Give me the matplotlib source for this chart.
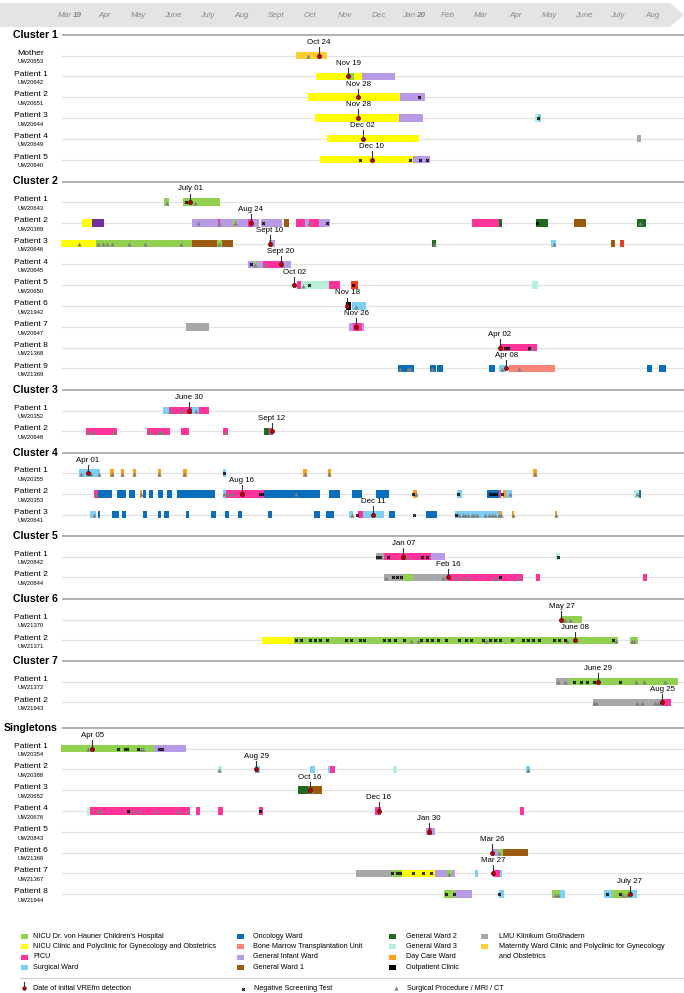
import matplotlib
matplotlib.use('Agg')
import matplotlib.pyplot as plt
import matplotlib.dates as mdates
from matplotlib.patches import Rectangle, Polygon
from datetime import datetime

plt.rcParams['font.family'] = ['Liberation Sans', 'DejaVu Sans']

# ward colours and legend names
ward_colors = {
    'hau': '#92D050', 'nic': '#FFFF00', 'picu': '#FF3399', 'surg': '#7DD0F5',
    'onc': '#0A6EBD', 'bmt': '#F88379', 'inf': '#B99AE6', 'gw1': '#9A5B0E',
    'gw2': '#1E6B1E', 'gw3': '#B8EFD8', 'day': '#FF9E1B', 'out': '#000000',
    'lmu': '#A8A8A8', 'mat': '#FFCC33', 'dpur': '#7030A0', 'red': '#F03C1E',
}
legend_cols = [
    [('hau', "NICU Dr. von Hauner Children's Hospital"),
     ('nic', 'NICU Clinic and Polyclinic for Gynecology and Obstetrics'),
     ('picu', 'PICU'), ('surg', 'Surgical Ward')],
    [('onc', 'Oncology Ward'), ('bmt', 'Bone Marrow Transplantation Unit'),
     ('inf', 'General Infant Ward'), ('gw1', 'General Ward 1')],
    [('gw2', 'General Ward 2'), ('gw3', 'General Ward 3'),
     ('day', 'Day Care Ward'), ('out', 'Outpatient Clinic')],
    [('lmu', 'LMU Klinikum Großhadern'),
     ('mat', 'Maternity Ward Clinic and Polyclinic for Gynecology'),
     (None, 'and Obstetrics')],
]

months = ['Mar', 'Apr', 'May', 'June', 'July', 'Aug', 'Sept', 'Oct', 'Nov', 'Dec',
          'Jan', 'Feb', 'Mar', 'Apr', 'May', 'June', 'July', 'Aug']
month_dates = ['2019-03-16', '2019-04-16', '2019-05-16', '2019-06-16', '2019-07-16',
               '2019-08-16', '2019-09-16', '2019-10-16', '2019-11-16', '2019-12-16',
               '2020-01-16', '2020-02-16', '2020-03-16', '2020-04-16', '2020-05-16',
               '2020-06-16', '2020-07-16', '2020-08-16']
month_names = ['Jan', 'Feb', 'Mar', 'Apr', 'May', 'June', 'July', 'Aug', 'Sept', 'Oct', 'Nov', 'Dec']

# ---------------- Cluster 1
c1_names = ['Mother', 'Patient 1', 'Patient 2', 'Patient 3', 'Patient 4', 'Patient 5']
c1_ids = ['UW20653', 'UW20642', 'UW20651', 'UW20644', 'UW20649', 'UW20640']
c1_detect = ['2019-10-24', '2019-11-19', '2019-11-28', '2019-11-28', '2019-12-02', '2019-12-10']
c1_stays = [
    [('2019-10-03', '2019-10-31', 'mat')],
    [('2019-10-21', '2019-11-19', 'nic'), ('2019-11-19', '2019-11-24', 'hau'),
     ('2019-11-24', '2019-12-01', 'nic'), ('2019-12-01', '2019-12-31', 'inf')],
    [('2019-10-14', '2020-01-04', 'nic'), ('2020-01-04', '2020-01-26', 'inf')],
    [('2019-10-20', '2020-01-03', 'nic'), ('2020-01-03', '2020-01-25', 'inf'),
     ('2020-05-03', '2020-05-06', 'gw3'), ('2020-05-06', '2020-05-09', 'surg')],
    [('2019-10-31', '2020-01-21', 'nic'), ('2020-08-02', '2020-08-06', 'lmu')],
    [('2019-10-25', '2020-01-16', 'nic'), ('2020-01-16', '2020-01-31', 'inf')],
]
c1_neg = [[], [], ['2020-01-21'], ['2020-05-06'], [],
          ['2019-11-29', '2020-01-13', '2020-01-22', '2020-01-28']]
c1_proc = [['2019-10-14'], [], [], [], [], []]

# ---------------- Cluster 2
c2_names = ['Patient %d' % i for i in range(1, 10)]
c2_ids = ['UW20643', 'UW20389', 'UW20646', 'UW20645', 'UW20650', 'UW21942', 'UW20647',
          'UW21368', 'UW21369']
c2_detect = ['2019-07-01', '2019-08-24', '2019-09-10', '2019-09-20', '2019-10-02',
             '2019-11-18', '2019-11-26', '2020-04-02', '2020-04-08']
c2_stays = [
    [('2019-06-08', '2019-06-12', 'hau'), ('2019-06-25', '2019-07-28', 'hau')],
    [('2019-03-27', '2019-04-05', 'nic'), ('2019-04-05', '2019-04-15', 'dpur'),
     ('2019-07-03', '2019-07-26', 'inf'), ('2019-07-26', '2019-07-28', 'picu'),
     ('2019-07-28', '2019-08-08', 'inf'), ('2019-08-08', '2019-08-11', 'hau'),
     ('2019-08-11', '2019-08-22', 'inf'), ('2019-08-22', '2019-08-26', 'picu'),
     ('2019-08-26', '2019-08-31', 'inf'), ('2019-09-02', '2019-09-21', 'inf'),
     ('2019-09-23', '2019-09-27', 'gw1'), ('2019-10-03', '2019-10-11', 'picu'),
     ('2019-10-11', '2019-10-15', 'inf'), ('2019-10-15', '2019-10-24', 'picu'),
     ('2019-10-24', '2019-11-03', 'inf'), ('2020-03-08', '2020-04-01', 'picu'),
     ('2020-04-01', '2020-04-04', 'gw2'), ('2020-05-04', '2020-05-15', 'gw2'),
     ('2020-06-07', '2020-06-18', 'gw1'), ('2020-08-02', '2020-08-10', 'gw2')],
    [('2019-03-08', '2019-04-08', 'nic'), ('2019-04-08', '2019-07-03', 'hau'),
     ('2019-07-03', '2019-07-25', 'gw1'), ('2019-07-25', '2019-07-29', 'hau'),
     ('2019-07-29', '2019-08-08', 'gw1'), ('2019-09-09', '2019-09-15', 'inf'),
     ('2020-02-02', '2020-02-05', 'gw2'), ('2020-05-18', '2020-05-22', 'surg'),
     ('2020-07-10', '2020-07-14', 'gw1'), ('2020-07-18', '2020-07-22', 'red')],
    [('2019-08-22', '2019-08-27', 'inf'), ('2019-08-27', '2019-08-30', 'hau'),
     ('2019-08-30', '2019-09-04', 'inf'), ('2019-09-04', '2019-09-22', 'picu'),
     ('2019-09-22', '2019-09-29', 'inf')],
    [('2019-10-04', '2019-10-08', 'picu'), ('2019-10-08', '2019-11-02', 'gw3'),
     ('2019-11-02', '2019-11-12', 'picu'), ('2019-11-21', '2019-11-28', 'red'),
     ('2020-05-01', '2020-05-06', 'gw3')],
    [('2019-11-17', '2019-11-21', 'out'), ('2019-11-22', '2019-12-05', 'surg')],
    [('2019-06-27', '2019-07-18', 'lmu'), ('2019-11-20', '2019-11-23', 'inf'),
     ('2019-11-23', '2019-12-01', 'picu'), ('2019-12-01', '2019-12-03', 'inf')],
    [('2020-04-02', '2020-05-05', 'picu')],
    [('2020-01-02', '2020-01-17', 'onc'), ('2020-01-31', '2020-02-05', 'onc'),
     ('2020-02-06', '2020-02-11', 'onc'), ('2020-03-23', '2020-03-29', 'onc'),
     ('2020-04-01', '2020-04-08', 'surg'), ('2020-04-10', '2020-05-21', 'bmt'),
     ('2020-08-11', '2020-08-16', 'onc'), ('2020-08-22', '2020-08-28', 'onc')],
]
c2_neg = [['2019-06-27'], ['2019-09-04', '2019-10-31', '2020-05-05'], [], ['2019-08-24'],
          ['2019-10-15', '2019-11-23'], [], [], ['2020-04-07', '2020-04-09', '2020-04-28'], []]
c2_proc = [['2019-06-10', '2019-07-05'],
           ['2019-07-08', '2019-07-27', '2019-08-10', '2019-10-15', '2020-08-05'],
           ['2019-03-24', '2019-04-10', '2019-04-14', '2019-04-18', '2019-04-22', '2019-05-08',
            '2019-05-22', '2019-06-23', '2019-07-27', '2020-02-03', '2020-05-20'],
           ['2019-08-28', '2019-09-05', '2019-09-21'], ['2019-10-10'], ['2019-11-26'], [],
           ['2020-04-10', '2020-04-30'],
           ['2020-01-04', '2020-01-11', '2020-01-13', '2020-02-02', '2020-04-04', '2020-04-19']]

# ---------------- Cluster 3
c3_names = ['Patient 1', 'Patient 2']
c3_ids = ['UW20352', 'UW20648']
c3_detect = ['2019-06-30', '2019-09-12']
c3_stays = [
    [('2019-06-07', '2019-06-12', 'surg'), ('2019-06-12', '2019-07-03', 'picu'),
     ('2019-07-03', '2019-07-09', 'surg'), ('2019-07-09', '2019-07-18', 'picu')],
    [('2019-03-30', '2019-04-27', 'picu'), ('2019-05-24', '2019-06-13', 'picu'),
     ('2019-06-23', '2019-06-30', 'picu'), ('2019-07-30', '2019-08-04', 'picu'),
     ('2019-09-05', '2019-09-09', 'gw2'), ('2019-09-09', '2019-09-13', 'picu')],
]
c3_neg = [[], []]
c3_proc = [['2019-06-13', '2019-06-23', '2019-07-06'],
           ['2019-04-02', '2019-04-06', '2019-04-23', '2019-05-26', '2019-06-03', '2019-06-06',
            '2019-08-02', '2019-09-11']]

# ---------------- Cluster 4
c4_names = ['Patient 1', 'Patient 2', 'Patient 3']
c4_ids = ['UW20355', 'UW20353', 'UW20641']
c4_detect = ['2019-04-01', '2019-08-16', '2019-12-11']
c4_stays = [
    [('2019-03-24', '2019-04-12', 'surg'), ('2019-04-21', '2019-04-24', 'day'),
     ('2019-04-30', '2019-05-03', 'day'), ('2019-05-11', '2019-05-14', 'day'),
     ('2019-06-02', '2019-06-05', 'day'), ('2019-06-25', '2019-06-28', 'day'),
     ('2019-07-30', '2019-08-02', 'surg'), ('2019-10-10', '2019-10-13', 'day'),
     ('2019-11-01', '2019-11-04', 'day'), ('2020-05-02', '2020-05-05', 'day')],
    [('2019-04-06', '2019-04-10', 'picu'), ('2019-04-10', '2019-04-22', 'onc'),
     ('2019-04-27', '2019-05-05', 'onc'), ('2019-05-08', '2019-05-13', 'onc'),
     ('2019-05-17', '2019-05-19', 'day'), ('2019-05-20', '2019-05-23', 'onc'),
     ('2019-05-25', '2019-05-29', 'onc'), ('2019-06-02', '2019-06-07', 'onc'),
     ('2019-06-10', '2019-06-15', 'onc'), ('2019-06-19', '2019-07-23', 'onc'),
     ('2019-07-30', '2019-08-02', 'surg'), ('2019-08-02', '2019-09-05', 'picu'),
     ('2019-09-05', '2019-10-25', 'onc'), ('2019-11-02', '2019-11-12', 'onc'),
     ('2019-11-22', '2019-12-01', 'onc'), ('2019-12-14', '2019-12-25', 'onc'),
     ('2020-01-16', '2020-01-19', 'day'), ('2020-02-24', '2020-02-28', 'surg'),
     ('2020-03-22', '2020-04-01', 'onc'), ('2020-04-01', '2020-04-03', 'picu'),
     ('2020-04-05', '2020-04-08', 'day'), ('2020-04-08', '2020-04-13', 'surg'),
     ('2020-07-31', '2020-08-04', 'gw3'), ('2020-08-04', '2020-08-06', 'onc')],
    [('2019-04-03', '2019-04-08', 'surg'), ('2019-04-10', '2019-04-12', 'onc'),
     ('2019-04-22', '2019-04-29', 'onc'), ('2019-05-01', '2019-05-05', 'onc'),
     ('2019-05-20', '2019-05-24', 'onc'), ('2019-06-02', '2019-06-05', 'onc'),
     ('2019-06-08', '2019-06-12', 'onc'), ('2019-06-27', '2019-06-30', 'onc'),
     ('2019-07-20', '2019-07-24', 'onc'), ('2019-08-01', '2019-08-05', 'onc'),
     ('2019-08-13', '2019-08-16', 'onc'), ('2019-09-08', '2019-09-12', 'onc'),
     ('2019-10-19', '2019-10-25', 'onc'), ('2019-10-30', '2019-11-06', 'onc'),
     ('2019-11-20', '2019-11-23', 'surg'), ('2019-11-28', '2019-12-02', 'picu'),
     ('2019-12-02', '2019-12-21', 'surg'), ('2019-12-25', '2019-12-31', 'onc'),
     ('2020-01-27', '2020-02-06', 'onc'), ('2020-02-22', '2020-04-01', 'surg'),
     ('2020-04-01', '2020-04-04', 'day'), ('2020-04-13', '2020-04-15', 'day'),
     ('2020-05-21', '2020-05-23', 'day')],
]
c4_neg = [['2019-07-31'],
          ['2019-09-01', '2019-09-03', '2020-01-16', '2020-02-25', '2020-03-24', '2020-03-26',
           '2020-03-28', '2020-03-30', '2020-04-04'],
          ['2019-11-27', '2020-01-17', '2020-02-23']]
c4_proc = [['2019-03-26', '2019-04-04', '2019-04-11', '2019-04-22', '2019-05-01', '2019-05-12',
            '2019-06-03', '2019-06-26', '2019-10-11', '2019-11-02', '2020-05-03'],
           ['2019-04-08', '2019-05-18', '2019-07-31', '2019-08-04', '2019-08-07', '2019-10-03',
            '2020-01-18', '2020-04-11', '2020-08-02'],
           ['2019-04-06', '2019-11-22', '2020-02-26', '2020-02-29', '2020-03-02', '2020-03-05',
            '2020-03-08', '2020-03-10', '2020-03-13', '2020-03-20', '2020-03-23', '2020-03-26',
            '2020-03-29', '2020-04-01', '2020-04-03', '2020-04-14', '2020-05-22']]

# ---------------- Cluster 5
c5_names = ['Patient 1', 'Patient 2']
c5_ids = ['UW20842', 'UW20844']
c5_detect = ['2020-01-07', '2020-02-16']
c5_stays = [
    [('2019-12-14', '2019-12-21', 'lmu'), ('2019-12-21', '2020-02-01', 'picu'),
     ('2020-02-01', '2020-02-13', 'inf'), ('2020-05-22', '2020-05-26', 'gw3')],
    [('2019-12-21', '2020-01-07', 'lmu'), ('2020-01-07', '2020-01-16', 'hau'),
     ('2020-01-16', '2020-02-17', 'lmu'), ('2020-02-17', '2020-04-23', 'picu'),
     ('2020-05-04', '2020-05-08', 'picu'), ('2020-08-08', '2020-08-11', 'picu')],
]
c5_neg = [['2019-12-15', '2019-12-17', '2019-12-24', '2020-01-24', '2020-01-28', '2020-05-24'],
          ['2019-12-29', '2020-01-01', '2020-01-05', '2020-04-02']]
c5_proc = [['2020-01-10'],
           ['2019-12-23', '2020-02-11', '2020-02-23', '2020-02-29', '2020-03-05', '2020-03-28',
            '2020-03-31', '2020-04-18']]

# ---------------- Cluster 6
c6_names = ['Patient 1', 'Patient 2']
c6_ids = ['UW21370', 'UW21371']
c6_detect = ['2020-05-27', '2020-06-08']
c6_stays = [
    [('2020-05-27', '2020-06-14', 'hau')],
    [('2019-09-03', '2019-10-02', 'nic'), ('2019-10-02', '2020-07-16', 'hau'),
     ('2020-07-27', '2020-08-03', 'hau')],
]
c6_neg = [[],
          ['2019-10-03', '2019-10-08', '2019-10-16', '2019-10-20', '2019-10-25', '2019-10-31',
           '2019-11-17', '2019-11-21', '2019-11-29', '2019-12-03', '2019-12-21', '2019-12-25',
           '2019-12-31', '2020-01-08', '2020-01-23', '2020-01-28', '2020-02-02', '2020-02-07',
           '2020-02-14', '2020-02-26', '2020-03-03', '2020-03-07', '2020-03-18', '2020-03-24',
           '2020-03-29', '2020-04-02', '2020-04-13', '2020-04-23', '2020-04-27', '2020-05-02',
           '2020-05-07', '2020-05-20', '2020-05-25', '2020-05-30', '2020-07-12']]
c6_proc = [['2020-05-30', '2020-06-04'],
           ['2020-01-14', '2020-01-20', '2020-03-21', '2020-06-01', '2020-07-15', '2020-07-29',
            '2020-07-31']]

# ---------------- Cluster 7
c7_names = ['Patient 1', 'Patient 2']
c7_ids = ['UW21372', 'UW21943']
c7_detect = ['2020-06-29', '2020-08-25']
c7_stays = [
    [('2020-05-22', '2020-06-03', 'lmu'), ('2020-06-03', '2020-09-08', 'hau')],
    [('2020-06-24', '2020-08-25', 'lmu'), ('2020-08-25', '2020-09-02', 'picu')],
]
c7_neg = [['2020-06-07', '2020-06-13', '2020-06-19', '2020-06-25', '2020-07-18'], []]
c7_proc = [['2020-05-24', '2020-05-30', '2020-08-01', '2020-08-09', '2020-08-27'],
           ['2020-06-25', '2020-06-27', '2020-08-02', '2020-08-07', '2020-08-18', '2020-08-21',
            '2020-08-23']]

# ---------------- Singletons
s_names = ['Patient %d' % i for i in range(1, 9)]
s_ids = ['UW20354', 'UW20388', 'UW20652', 'UW20676', 'UW20843', 'UW21366', 'UW21367', 'UW21944']
s_detect = ['2019-04-05', '2019-08-29', '2019-10-16', '2019-12-16', '2020-01-30', '2020-03-26',
            '2020-03-27', '2020-07-27']
s_stays = [
    [('2019-03-08', '2019-05-30', 'hau'), ('2019-05-30', '2019-06-27', 'inf')],
    [('2019-07-26', '2019-07-29', 'gw3'), ('2019-08-28', '2019-09-01', 'surg'),
     ('2019-10-16', '2019-10-20', 'surg'), ('2019-11-01', '2019-11-03', 'surg'),
     ('2019-11-03', '2019-11-07', 'picu'), ('2019-12-29', '2020-01-01', 'gw3'),
     ('2020-04-25', '2020-04-29', 'surg')],
    [('2019-10-05', '2019-10-14', 'gw2'), ('2019-10-14', '2019-10-27', 'gw1')],
    [('2019-03-31', '2019-04-03', 'gw3'), ('2019-04-03', '2019-07-01', 'picu'),
     ('2019-07-06', '2019-07-10', 'picu'), ('2019-07-26', '2019-07-30', 'picu'),
     ('2019-08-31', '2019-09-04', 'picu'), ('2019-12-13', '2019-12-18', 'picu'),
     ('2020-04-20', '2020-04-24', 'picu')],
    [('2020-01-27', '2020-01-29', 'inf'), ('2020-01-29', '2020-02-02', 'picu'),
     ('2020-02-02', '2020-02-04', 'inf')],
    [('2020-03-26', '2020-03-31', 'inf'), ('2020-03-31', '2020-04-05', 'hau'),
     ('2020-04-05', '2020-04-27', 'gw1')],
    [('2019-11-26', '2019-12-28', 'lmu'), ('2019-12-28', '2020-01-06', 'hau'),
     ('2020-01-06', '2020-02-04', 'nic'), ('2020-02-04', '2020-02-15', 'inf'),
     ('2020-02-15', '2020-02-19', 'hau'), ('2020-02-19', '2020-02-22', 'inf'),
     ('2020-03-11', '2020-03-14', 'surg'), ('2020-03-27', '2020-04-02', 'picu'),
     ('2020-04-02', '2020-04-04', 'surg')],
    [('2020-02-12', '2020-02-22', 'hau'), ('2020-02-22', '2020-03-08', 'inf'),
     ('2020-04-01', '2020-04-06', 'surg'), ('2020-05-19', '2020-05-26', 'hau'),
     ('2020-05-26', '2020-05-30', 'surg'), ('2020-07-04', '2020-07-11', 'surg'),
     ('2020-07-11', '2020-07-27', 'hau'), ('2020-07-27', '2020-08-02', 'surg')],
]
s_neg = [['2019-04-28', '2019-05-04', '2019-05-06', '2019-05-16', '2019-06-03', '2019-06-06'],
         [], [], ['2019-05-07', '2019-09-01'], [], [],
         ['2019-12-28', '2020-01-01', '2020-01-04', '2020-01-16', '2020-01-25', '2020-02-01'],
         ['2020-02-14', '2020-02-21', '2020-04-01', '2020-07-07', '2020-07-18']]
s_proc = [['2019-04-01', '2019-05-18', '2019-05-20'],
          ['2019-07-27', '2019-08-30', '2020-04-27'], ['2019-10-18'],
          ['2019-04-10', '2019-04-12', '2019-05-09', '2019-05-16', '2019-05-31', '2019-06-19',
           '2019-06-29'], [], ['2020-04-01'], ['2020-02-17'],
          ['2020-05-21', '2020-05-24', '2020-07-21', '2020-07-24']]

groups = [
    ('Cluster 1', c1_names, c1_ids, c1_detect, c1_stays, c1_neg, c1_proc),
    ('Cluster 2', c2_names, c2_ids, c2_detect, c2_stays, c2_neg, c2_proc),
    ('Cluster 3', c3_names, c3_ids, c3_detect, c3_stays, c3_neg, c3_proc),
    ('Cluster 4', c4_names, c4_ids, c4_detect, c4_stays, c4_neg, c4_proc),
    ('Cluster 5', c5_names, c5_ids, c5_detect, c5_stays, c5_neg, c5_proc),
    ('Cluster 6', c6_names, c6_ids, c6_detect, c6_stays, c6_neg, c6_proc),
    ('Cluster 7', c7_names, c7_ids, c7_detect, c7_stays, c7_neg, c7_proc),
    ('Singletons', s_names, s_ids, s_detect, s_stays, s_neg, s_proc),
]
header_y = [35, 181.5, 390, 452.5, 536, 599, 661, 728]

TRI = dict(marker='^', color='#808080', ms=3.0, mew=0, ls='none')
CROSS = dict(marker='x', color='black', ms=1.9, mew=0.8, ls='none')


def dn(s):
    return mdates.date2num(datetime.strptime(s, '%Y-%m-%d'))


W, H = 684, 993
fig = plt.figure(figsize=(W / 100, H / 100), dpi=100)
lay = fig.add_axes([0, 0, 1, 1])
lay.set_xlim(0, W)
lay.set_ylim(H, 0)
lay.axis('off')

ax = fig.add_axes([0, 0, 1, 1])
ax.patch.set_alpha(0)
base = dn('2019-03-01')
ax.set_xlim(base - 53.2 / 1.122, base + (W - 53.2) / 1.122)
ax.set_ylim(H, 0)
ax.axis('off')

# header arrow
lay.add_patch(Polygon([(0, 3), (670, 3), (684, 15), (670, 27), (0, 27)],
                      closed=True, fc='#E4E4E4', ec='none'))
for m, d in zip(months, month_dates):
    x = dn(d)
    if d in ('2019-03-16', '2020-01-16'):
        ax.annotate(m, (x, 15.5), xytext=(1, 0), textcoords='offset points', ha='right',
                    va='center', fontsize=5.9, style='italic', color='#8A8A8A')
        ax.annotate(d[2:4], (x, 15.5), xytext=(2.2, 0), textcoords='offset points', ha='left',
                    va='center', fontsize=5.9, style='italic', weight='bold', color='#8A8A8A')
    else:
        ax.text(x, 15.5, m, ha='center', va='center', fontsize=5.9, style='italic', color='#8A8A8A')

for (title, names, ids, detect, stays, neg, proc), hy in zip(groups, header_y):
    lay.text(58, hy, title, ha='right', va='center', fontsize=7.6, weight='bold')
    lay.plot([62, W], [hy, hy], color='#ABABAB', lw=1.3, solid_capstyle='butt')
    for i in range(len(names)):
        y = hy + 20.5 + i * 20.8
        lay.text(31, y - 2.3, names[i], ha='center', va='center', fontsize=6.1)
        lay.text(31, y + 6.3, ids[i], ha='center', va='center', fontsize=4.2)
        lay.plot([62, W], [y, y], color='#E2E2E2', lw=0.9)
        for s, e, w in stays[i]:
            ax.barh(y, dn(e) - dn(s), left=dn(s), height=7.5, color=ward_colors[w],
                    edgecolor='none', zorder=2)
        if proc[i]:
            ax.plot([dn(p) for p in proc[i]], [y + 0.5] * len(proc[i]), zorder=3, **TRI)
        if neg[i]:
            ax.plot([dn(p) for p in neg[i]], [y] * len(neg[i]), zorder=3, **CROSS)
        d = dn(detect[i])
        dt = datetime.strptime(detect[i], '%Y-%m-%d')
        ax.plot([d, d], [y - 8.5, y], color='#333333', lw=0.8, zorder=4)
        ax.plot(d, y, 'o', ms=3.0, mfc='#C00000', mec='#3A0000', mew=0.4, zorder=5)
        ax.text(d, y - 9.5, '%s %02d' % (month_names[dt.month - 1], dt.day), ha='center',
                va='bottom', fontsize=5.7, zorder=5)

# legend
col_sw = [21, 237, 389, 481]
col_tx = [33, 253, 406, 499]
row_y = [936, 946.5, 957, 967.5]
for c, items in enumerate(legend_cols):
    for r, (key, label) in enumerate(items):
        if key is not None:
            lay.add_patch(Rectangle((col_sw[c], row_y[r] - 2.5), 7, 5, fc=ward_colors[key], ec='none'))
        lay.text(col_tx[c], row_y[r], label, ha='left', va='center', fontsize=5.2)

lay.plot([20, W], [978, 978], color='#D0D0D0', lw=0.9)
lay.plot([24, 24], [982, 988], color='#333333', lw=0.8)
lay.plot(24, 988, 'o', ms=2.6, mfc='#C00000', mec='#3A0000', mew=0.4)
lay.text(33, 988, 'Date of initial VREfm detection', ha='left', va='center', fontsize=5.2)
lay.plot(242.5, 988.5, **CROSS)
lay.text(254, 988, 'Negative Screening Test', ha='left', va='center', fontsize=5.2)
lay.plot(395.5, 988, **TRI)
lay.text(407, 988, 'Surgical Procedure / MRI / CT', ha='left', va='center', fontsize=5.2)

fig.savefig('out.png', dpi=100)
